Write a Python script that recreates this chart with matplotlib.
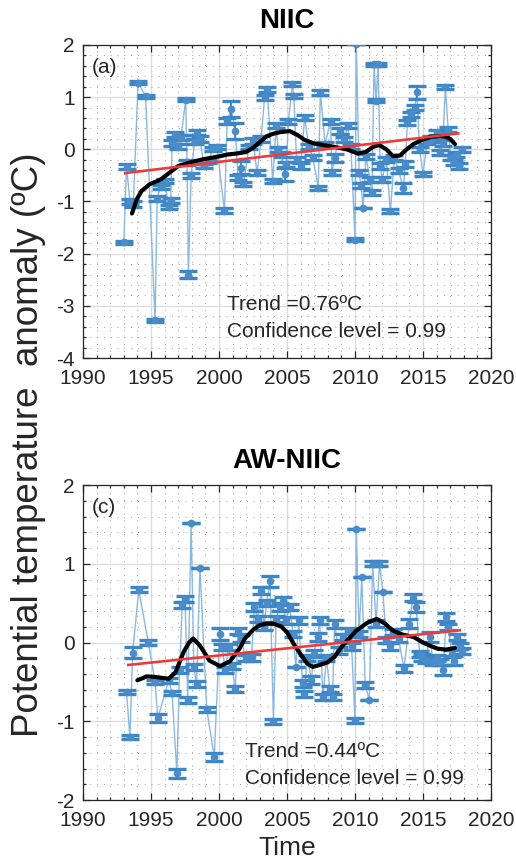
import matplotlib
matplotlib.use("Agg")
import matplotlib.pyplot as plt
from matplotlib.ticker import MultipleLocator
import numpy as np

plt.rcParams['font.family'] = ['Liberation Sans', 'DejaVu Sans']
plt.rcParams['axes.unicode_minus'] = False

# ---------------- NIIC (panel a) ----------------
niic_t = [1993.00, 1993.20, 1993.45, 1993.70, 1994.05, 1994.60, 1995.30, 1995.45, 1995.70, 1996.00,
          1996.30, 1996.45, 1996.55, 1996.75, 1997.00, 1997.20, 1997.55, 1997.65, 1997.75, 1997.95,
          1998.20, 1998.40, 1998.60, 1998.90, 1999.20, 1999.55, 1999.85, 2000.40, 2000.60, 2000.90,
          2001.20, 2001.40, 2001.60, 2001.80, 2002.20, 2002.50, 2002.80, 2003.10, 2003.35, 2003.55,
          2003.95, 2004.20, 2004.35, 2004.60, 2004.85, 2004.95, 2005.10, 2005.40, 2005.50, 2005.70,
          2006.00, 2006.30, 2006.60, 2006.90, 2007.30, 2007.45, 2007.80, 2008.20, 2008.30, 2008.50,
          2008.90, 2009.20, 2009.45, 2009.70, 2010.00, 2010.10, 2010.30, 2010.45, 2010.60, 2010.80,
          2011.10, 2011.25, 2011.40, 2011.55, 2011.70, 2011.85, 2012.00, 2012.30, 2012.60, 2012.90,
          2013.20, 2013.55, 2013.70, 2013.85, 2014.10, 2014.40, 2014.55, 2014.75, 2015.00, 2015.30,
          2015.60, 2016.00, 2016.25, 2016.45, 2016.65, 2016.85, 2017.05, 2017.25, 2017.45, 2017.65,
          2017.85]
niic_v = [-1.78, -0.33, -1.00, -1.05, 1.28, 1.02, -3.28, -0.95, -0.72, -0.60,
          -1.10, -0.98, 0.12, 0.28, 0.05, 0.22, 0.95, -0.25, -2.40, -0.50,
          0.15, 0.32, 0.20, -0.32, -0.22, 0.00, 0.05, -1.18, 0.54, 0.77,
          0.35, -0.54, -0.35, -0.67, 0.05, 0.16, -0.45, 0.20, 1.00, 1.15,
          -0.61, 0.45, 0.00, -0.10, -0.48, -0.29, 0.54, 1.25, 1.02, -0.19,
          -0.32, 0.61, 0.05, -0.15, -0.74, 1.09, 0.10, 0.54, -0.45, -0.16,
          0.35, 0.19, 0.45, 0.05, -1.73, 2.02, -0.45, -0.70, -1.12, -0.13,
          -0.58, -0.82, 1.63, 0.93, 1.63, -0.32, -0.58, -0.20, -1.19, -0.15,
          -0.40, -0.74, -0.28, 0.52, 0.67, 0.80, 1.09, 0.00, -0.48, 0.15,
          0.20, 0.32, -0.06, 0.12, 1.19, 0.38, -0.16, -0.25, -0.10, -0.32,
          0.00]
niic_e = [0.03, 0.05, 0.04, 0.05, 0.03, 0.03, 0.03, 0.05, 0.04, 0.04,
          0.04, 0.05, 0.05, 0.05, 0.05, 0.05, 0.03, 0.05, 0.06, 0.05,
          0.05, 0.05, 0.05, 0.04, 0.04, 0.04, 0.04, 0.05, 0.06, 0.15,
          0.15, 0.05, 0.12, 0.04, 0.04, 0.05, 0.05, 0.05, 0.05, 0.05,
          0.04, 0.05, 0.05, 0.05, 0.12, 0.05, 0.05, 0.04, 0.04, 0.05,
          0.05, 0.05, 0.05, 0.05, 0.04, 0.04, 0.05, 0.05, 0.05, 0.08,
          0.05, 0.05, 0.05, 0.05, 0.03, 0.00, 0.05, 0.05, 0.00, 0.05,
          0.05, 0.05, 0.03, 0.03, 0.03, 0.05, 0.05, 0.05, 0.04, 0.05,
          0.05, 0.10, 0.05, 0.05, 0.05, 0.05, 0.12, 0.05, 0.04, 0.05,
          0.05, 0.05, 0.05, 0.05, 0.04, 0.05, 0.05, 0.05, 0.05, 0.05,
          0.05]
niic_smooth_t = [1993.6, 1993.95, 1994.3, 1994.9, 1995.7, 1996.4, 1997.0, 1997.9, 1998.85, 2000.1,
                 2000.6, 2001.3, 2002.0, 2002.5, 2003.0, 2003.5, 2004.0, 2004.5, 2005.2, 2005.8,
                 2006.3, 2006.9, 2007.7, 2008.4, 2009.4, 2010.2, 2010.8, 2011.35, 2011.8, 2012.3,
                 2012.8, 2013.3, 2013.8, 2014.3, 2015.0, 2015.6, 2016.2, 2016.7, 2017.0, 2017.35]
niic_smooth_v = [-1.23, -0.96, -0.80, -0.67, -0.58, -0.44, -0.32, -0.25, -0.19, -0.13,
                 -0.10, -0.08, -0.05, 0.03, 0.14, 0.25, 0.30, 0.33, 0.35, 0.27,
                 0.18, 0.12, 0.08, 0.05, 0.00, -0.08, -0.05, 0.05, 0.08, 0.00,
                 -0.13, -0.12, 0.00, 0.10, 0.19, 0.24, 0.25, 0.24, 0.20, 0.10]
niic_trend = 0.76          # degC over the record
niic_trend_span = (1993.1, 2017.6)
niic_trend_mid = -0.075

# ---------------- AW-NIIC (panel c) ----------------
aw_t = [1993.20, 1993.45, 1993.65, 1994.10, 1994.80, 1995.30, 1995.50, 1996.30, 1996.55, 1996.90,
        1997.10, 1997.30, 1997.50, 1997.70, 1997.95, 1998.15, 1998.35, 1998.60, 1999.10, 1999.65,
        2000.05, 2000.25, 2000.45, 2000.70, 2000.95, 2001.20, 2001.40, 2001.65, 2001.95, 2002.40,
        2002.60, 2002.85, 2003.10, 2003.30, 2003.50, 2003.75, 2004.00, 2004.20, 2004.45, 2004.70,
        2004.90, 2005.20, 2005.45, 2005.65, 2005.85, 2006.15, 2006.25, 2006.50, 2006.80, 2006.95,
        2007.25, 2007.40, 2007.65, 2007.90, 2008.15, 2008.35, 2008.50, 2008.80, 2009.15, 2009.50,
        2009.75, 2010.00, 2010.10, 2010.30, 2010.50, 2010.75, 2011.05, 2011.30, 2011.55, 2011.80,
        2012.05, 2012.30, 2012.55, 2012.80, 2013.20, 2013.60, 2014.00, 2014.25, 2014.50, 2014.75,
        2014.95, 2015.20, 2015.50, 2015.75, 2016.00, 2016.25, 2016.50, 2016.70, 2016.85, 2017.10,
        2017.30, 2017.50, 2017.70, 2017.90]
aw_v = [-0.63, -1.20, -0.13, 0.67, 0.00, -0.50, -0.96, -0.48, -0.64, -1.66,
        -0.35, 0.48, 0.55, -0.73, 1.52, -0.31, -0.53, 0.95, -0.85, -1.45,
        0.11, -0.06, -0.35, -0.06, -0.30, -0.59, 0.15, 0.05, -0.20, -0.19,
        0.45, 0.30, 0.66, 0.20, 0.50, 0.78, -1.00, 0.30, 0.45, 0.53,
        0.28, 0.45, 0.11, -0.31, 0.28, -0.52, -0.65, -0.20, -0.48, -0.14,
        0.07, 0.28, -0.69, -0.20, -0.59, -0.69, 0.24, -0.10, 0.07, 0.15,
        -0.05, -0.99, 1.44, 0.11, 0.83, -0.54, -0.73, 1.00, 0.24, 1.00,
        0.64, 0.03, -0.05, 0.13, 0.05, -0.33, 0.24, 0.57, 0.45, -0.15,
        -0.19, -0.22, 0.07, -0.25, -0.20, -0.25, -0.35, 0.32, 0.20, -0.14,
        -0.23, 0.07, -0.04, -0.11]
aw_e = [0.03, 0.03, 0.07, 0.03, 0.03, 0.03, 0.05, 0.03, 0.03, 0.06,
        0.04, 0.04, 0.04, 0.04, 0.00, 0.04, 0.04, 0.00, 0.03, 0.05,
        0.08, 0.04, 0.04, 0.04, 0.04, 0.04, 0.04, 0.04, 0.04, 0.04,
        0.05, 0.04, 0.05, 0.04, 0.04, 0.07, 0.03, 0.04, 0.05, 0.05,
        0.04, 0.04, 0.04, 0.00, 0.04, 0.04, 0.04, 0.04, 0.05, 0.04,
        0.05, 0.05, 0.04, 0.04, 0.04, 0.04, 0.05, 0.04, 0.04, 0.04,
        0.04, 0.03, 0.00, 0.04, 0.00, 0.04, 0.00, 0.03, 0.04, 0.03,
        0.00, 0.04, 0.04, 0.04, 0.04, 0.04, 0.06, 0.04, 0.06, 0.04,
        0.04, 0.04, 0.06, 0.04, 0.04, 0.04, 0.06, 0.05, 0.04, 0.04,
        0.06, 0.04, 0.04, 0.04]
aw_smooth_t = [1994.0, 1994.7, 1995.4, 1996.3, 1996.8, 1997.4, 1997.8, 1998.1, 1998.6, 1999.3,
               2000.07, 2000.8, 2001.5, 2001.9, 2002.5, 2003.0, 2003.5, 2004.0, 2004.6, 2005.0,
               2005.5, 2006.0, 2006.5, 2006.9, 2007.5, 2008.0, 2008.5, 2009.0, 2009.5, 2010.1,
               2010.9, 2011.6, 2012.2, 2012.8, 2013.5, 2014.3, 2015.0, 2015.5, 2016.1, 2016.7,
               2017.35]
aw_smooth_v = [-0.48, -0.43, -0.44, -0.46, -0.38, -0.12, 0.00, 0.05, -0.04, -0.23,
               -0.30, -0.24, -0.08, 0.05, 0.16, 0.22, 0.24, 0.24, 0.20, 0.13,
               -0.02, -0.15, -0.27, -0.31, -0.28, -0.25, -0.18, -0.06, 0.04, 0.15,
               0.25, 0.30, 0.24, 0.15, 0.10, 0.07, 0.00, -0.04, -0.08, -0.09,
               -0.07]
aw_trend = 0.44
aw_trend_span = (1993.33, 2017.7)
aw_trend_mid = -0.065

x_ticks = [1990, 1995, 2000, 2005, 2010, 2015, 2020]

# ---------------- styling ----------------
BAR_C = '#3d86c6'
LINE_C = '#8cb8e0'
DOT_C = '#4a8cca'
TXT_C = '#262626'
W, H = 516, 863

fig = plt.figure(figsize=(W / 100, H / 100), dpi=100)


def px_axes(left, top, right, bottom):
    return fig.add_axes([left / W, 1 - bottom / H, (right - left) / W, (bottom - top) / H])


def draw_panel(ax, t, v, e, st, sv, trend, span, mid, ylim, yticks, title, tag,
               trend_label, text_xy):
    ax.set_xlim(1990, 2020)
    ax.set_ylim(*ylim)
    ax.set_xticks(x_ticks)
    ax.set_yticks(yticks)
    ax.set_yticklabels([str(y) for y in yticks])
    ax.xaxis.set_minor_locator(MultipleLocator(1))
    ax.yaxis.set_minor_locator(MultipleLocator(0.2))
    ax.grid(which='major', color='#dcdcdc', lw=0.9, ls='-', zorder=0)
    ax.grid(which='minor', color='#a0a0a0', lw=0.7, ls=(0, (1, 6)), zorder=0)
    ax.set_axisbelow(True)
    ax.tick_params(which='both', direction='in', top=True, right=True,
                   labelsize=15, colors=TXT_C, width=0.9)
    ax.tick_params(axis='x', which='major', length=5, pad=8)
    ax.tick_params(axis='y', which='major', length=5, pad=6)
    ax.tick_params(which='minor', length=2.5)
    for s in ax.spines.values():
        s.set_color(TXT_C)
        s.set_linewidth(0.9)

    ax.errorbar(t, v, yerr=e, fmt='o', color=DOT_C, ms=4.5, mfc=DOT_C, mec=DOT_C,
                ecolor=BAR_C, elinewidth=1.4, capsize=6.5, capthick=2.4, zorder=3)
    ax.plot(t, v, color=LINE_C, lw=1.0, zorder=2)
    ax.plot(st, sv, color='black', lw=3.0, solid_joinstyle='round',
            solid_capstyle='round', zorder=5)

    slope = trend / (span[1] - span[0])
    xc = (span[0] + span[1]) / 2
    tx = np.array(span)
    ax.plot(tx, mid + slope * (tx - xc), color='#ee3a3a', lw=1.9, zorder=6)

    ax.set_title(title, fontsize=20, fontweight='bold', color='black', pad=12)
    ax.text(0.022, 0.927, tag, transform=ax.transAxes, fontsize=15, color=TXT_C,
            ha='left', va='center')
    ax.text(text_xy[0], text_xy[1], trend_label, fontsize=15, color=TXT_C,
            ha='left', va='baseline')
    ax.text(text_xy[0], text_xy[2], 'Confidence level = 0.99', fontsize=15,
            color=TXT_C, ha='left', va='baseline')


ax1 = px_axes(83, 45, 491, 358)
draw_panel(ax1, niic_t, niic_v, niic_e, niic_smooth_t, niic_smooth_v,
           niic_trend, niic_trend_span, niic_trend_mid,
           (-4, 2), [-4, -3, -2, -1, 0, 1, 2], 'NIIC', '(a)',
           'Trend =0.76ºC', (2000.6, -3.08, -3.60))

ax2 = px_axes(83, 485, 491, 800)
draw_panel(ax2, aw_t, aw_v, aw_e, aw_smooth_t, aw_smooth_v,
           aw_trend, aw_trend_span, aw_trend_mid,
           (-2, 2), [-2, -1, 0, 1, 2], 'AW-NIIC', '(c)',
           'Trend =0.44ºC', (2001.9, -1.455, -1.80))
ax2.set_xlabel('Time', fontsize=19, color=TXT_C, labelpad=4)

fig.text(29 / W, 1 - 445 / H, 'Potential temperature  anomaly (ºC)', rotation=90,
         fontsize=26.5, color=TXT_C, ha='center', va='center')

fig.savefig('out.png', dpi=100)
